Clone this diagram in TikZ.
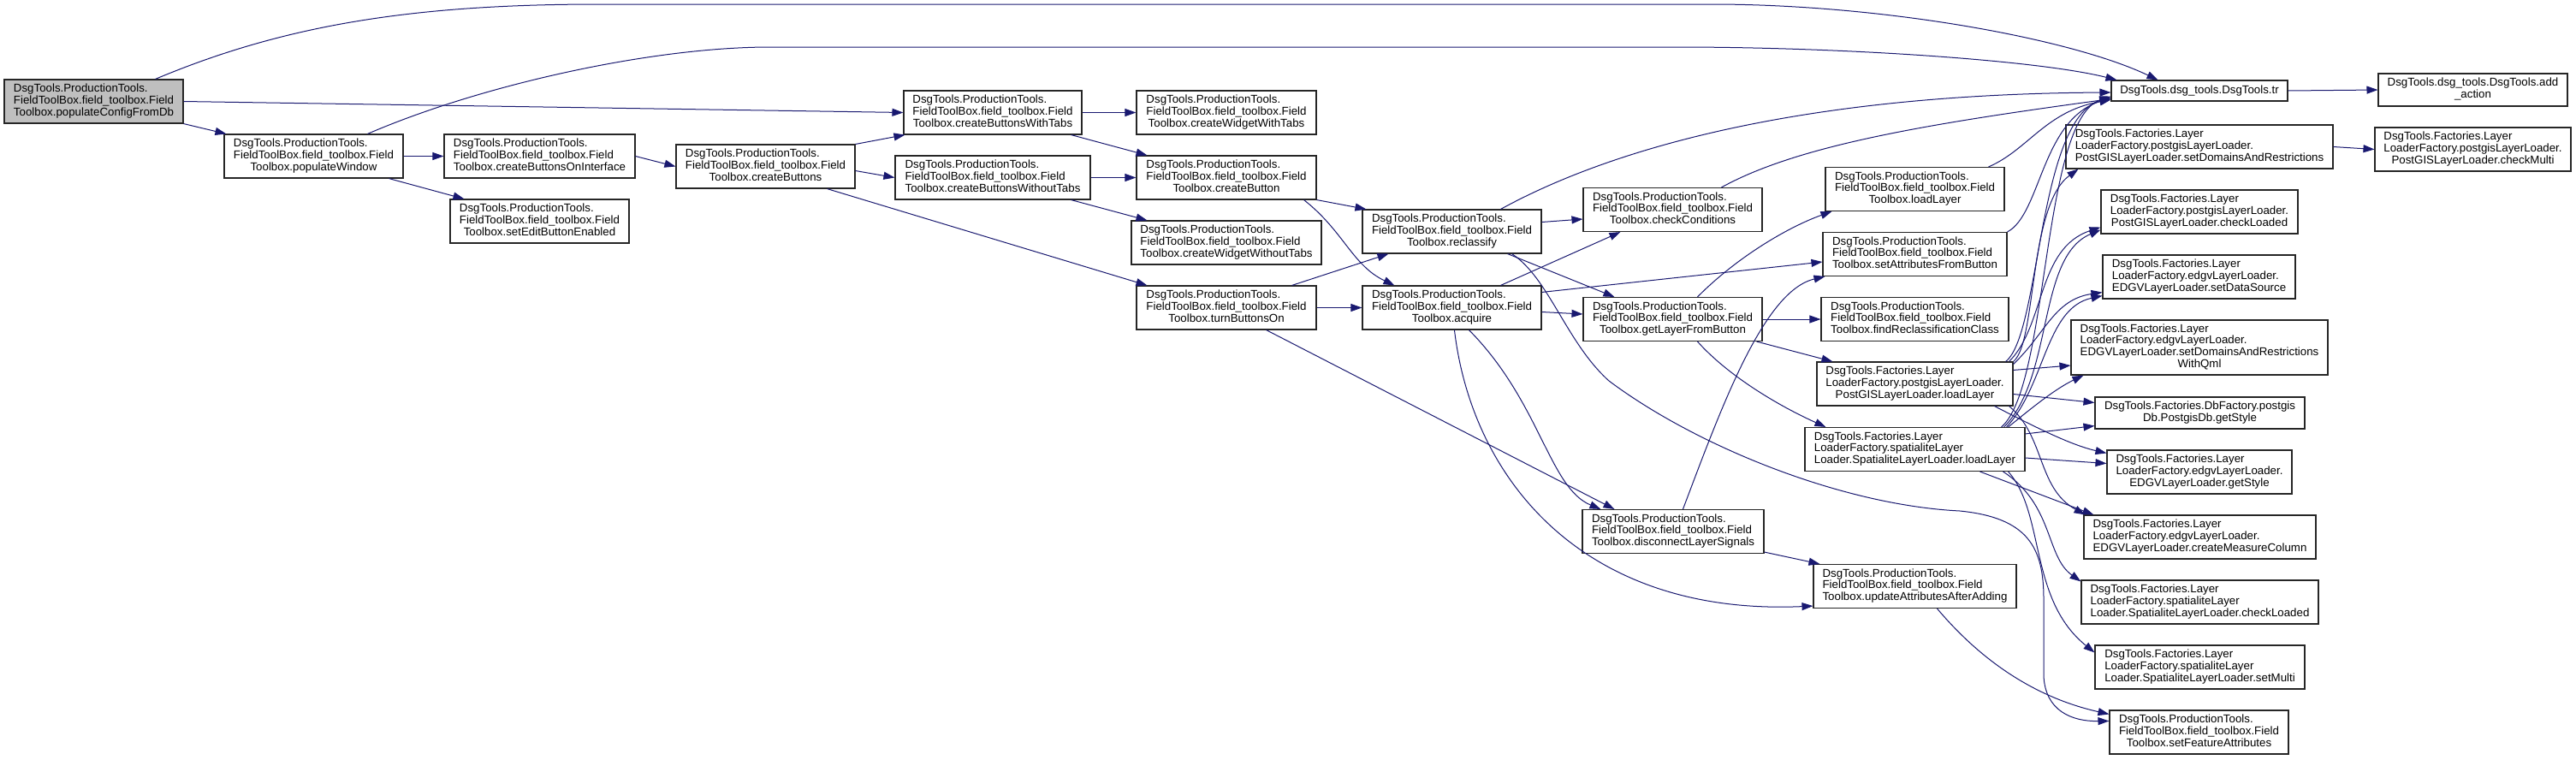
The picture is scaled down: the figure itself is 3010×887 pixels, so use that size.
\documentclass[tikz,border=0pt]{standalone}
\usepackage{fontspec}
\setmainfont{Liberation Sans}
\usetikzlibrary{arrows.meta,calc}
\definecolor{edgec}{HTML}{191970}
\definecolor{mainfill}{HTML}{BFBFBF}
\newcommand\lbl[2]{\begin{tabular}{@{}l@{}}#1\\\multicolumn{1}{@{}c@{}}{#2}\end{tabular}}
\newcommand\PTa{DsgTools.ProductionTools.\\FieldToolBox.field\_toolbox.Field}
\newcommand\PGa{DsgTools.Factories.Layer\\LoaderFactory.postgisLayerLoader.}
\newcommand\EDa{DsgTools.Factories.Layer\\LoaderFactory.edgvLayerLoader.}
\newcommand\SPa{DsgTools.Factories.Layer\\LoaderFactory.spatialiteLayer}
\begin{document}
\begin{tikzpicture}[x=1pt,y=-1pt,
  font=\fontsize{13.3}{13.7}\selectfont,
  box/.style={draw=black!85, line width=1.1pt, fill=white, inner sep=0pt, minimum height=51pt},
  edge/.style={draw=edgec, line width=1pt, -{Triangle[length=13pt,width=9pt]}},
]
\useasboundingbox (0,0) rectangle (3010,887);

% nodes
\node[box, fill=mainfill, minimum width=209pt] (pcfg) at (109.5,118.5) {\lbl{\PTa}{Toolbox.populateConfigFromDb}};
\node[box, minimum width=209pt] (pwin) at (366.5,182.5) {\lbl{\PTa}{Toolbox.populateWindow}};
\node[box, minimum width=223pt] (cboi) at (630.5,182.5) {\lbl{\PTa}{Toolbox.createButtonsOnInterface}};
\node[box, minimum width=209pt] (sebe) at (630.5,258.5) {\lbl{\PTa}{Toolbox.setEditButtonEnabled}};
\node[box, minimum width=209pt] (cbtn) at (894.5,194.5) {\lbl{\PTa}{Toolbox.createButtons}};
\node[box, minimum width=208pt] (cbwt) at (1160,131.5) {\lbl{\PTa}{Toolbox.createButtonsWithTabs}};
\node[box, minimum width=228pt] (cbwo) at (1160,207.5) {\lbl{\PTa}{Toolbox.createButtonsWithoutTabs}};
\node[box, minimum width=210pt] (cwwt) at (1433,131.5) {\lbl{\PTa}{Toolbox.createWidgetWithTabs}};
\node[box, minimum width=210pt] (cbut) at (1433,207.5) {\lbl{\PTa}{Toolbox.createButton}};
\node[box, minimum width=222pt] (cwwo) at (1433,283.5) {\lbl{\PTa}{Toolbox.createWidgetWithoutTabs}};
\node[box, minimum width=210pt] (tbon) at (1433,359.5) {\lbl{\PTa}{Toolbox.turnButtonsOn}};
\node[box, minimum width=209pt] (recl) at (1696.5,270.5) {\lbl{\PTa}{Toolbox.reclassify}};
\node[box, minimum width=209pt] (acq) at (1696.5,359.5) {\lbl{\PTa}{Toolbox.acquire}};
\node[box, minimum width=209pt] (chkc) at (1954.5,245) {\lbl{\PTa}{Toolbox.checkConditions}};
\node[box, minimum width=209pt] (glfb) at (1954.5,373) {\lbl{\PTa}{Toolbox.getLayerFromButton}};
\node[box, minimum width=212pt] (dls) at (1955,621) {\lbl{\PTa}{Toolbox.disconnectLayerSignals}};
\node[box, minimum width=209pt] (ll) at (2237.5,221) {\lbl{\PTa}{Toolbox.loadLayer}};
\node[box, minimum width=215pt] (safb) at (2237.5,297) {\lbl{\PTa}{Toolbox.setAttributesFromButton}};
\node[box, minimum width=219pt] (frc) at (2237.5,373) {\lbl{\PTa}{Toolbox.findReclassificationClass}};
\node[box, minimum width=229pt] (pgll) at (2237.5,448.5) {\lbl{\PGa}{PostGISLayerLoader.loadLayer}};
\node[box, minimum width=257pt] (spll) at (2237.5,525) {\lbl{\SPa}{Loader.SpatialiteLayerLoader.loadLayer}};
\node[box, minimum width=237pt] (uaaa) at (2237.5,685) {\lbl{\PTa}{Toolbox.updateAttributesAfterAdding}};
\node[box, minimum width=206pt, minimum height=24pt] (tr) at (2570,106) {DsgTools.dsg\_tools.DsgTools.tr};
\node[box, minimum width=221pt, minimum height=38pt] (addact) at (2889.5,105) {\lbl{DsgTools.dsg\_tools.DsgTools.add}{\_action}};
\node[box, minimum width=312pt] (pgsdr) at (2570,171.5) {\lbl{\PGa}{PostGISLayerLoader.setDomainsAndRestrictions}};
\node[box, minimum width=229pt] (cmul) at (2889.5,174.5) {\lbl{\PGa}{PostGISLayerLoader.checkMulti}};
\node[box, minimum width=230pt] (pgchk) at (2570,247.5) {\lbl{\PGa}{PostGISLayerLoader.checkLoaded}};
\node[box, minimum width=225pt] (sds) at (2569.5,323.5) {\lbl{\EDa}{EDGVLayerLoader.setDataSource}};
\node[box, minimum width=300pt, minimum height=64pt] (sdrq) at (2570,406) {\lbl{\EDa\\EDGVLayerLoader.setDomainsAndRestrictions}{WithQml}};
\node[box, minimum width=245pt, minimum height=37pt] (pgdbgs) at (2570.5,482.5) {\lbl{DsgTools.Factories.DbFactory.postgis}{Db.PostgisDb.getStyle}};
\node[box, minimum width=216pt] (egs) at (2570,551.5) {\lbl{\EDa}{EDGVLayerLoader.getStyle}};
\node[box, minimum width=271pt] (cmc) at (2570.5,627.5) {\lbl{\EDa}{EDGVLayerLoader.createMeasureColumn}};
\node[box, minimum width=277pt] (spchk) at (2570.5,703.5) {\lbl{\SPa}{Loader.SpatialiteLayerLoader.checkLoaded}};
\node[box, minimum width=245pt] (smul) at (2570.5,779.5) {\lbl{\SPa}{Loader.SpatialiteLayerLoader.setMulti}};
\node[box, minimum width=209pt] (sfa) at (2569.5,855.5) {\lbl{\PTa}{Toolbox.setFeatureAttributes}};

% edges
\draw[edge] ($(pcfg.north west)+(177,0)$) .. controls (330,30) and (480,5) .. (700,5) -- (2000,5) .. controls (2200,5) and (2420,45) .. ($(tr.north west)+(55,0)$);
\draw[edge] (pcfg.east) -- (cbwt.west);
\draw[edge] (pcfg.south east) -- ($(pwin.north west)+(3,0)$);
\draw[edge] ($(pwin.north west)+(168,0)$) .. controls (560,100) and (760,55) .. (900,55) -- (1960,55) .. controls (2150,55) and (2380,70) .. ($(tr.north west)+(7,0)$);
\draw[edge] (pwin.east) -- (cboi.west);
\draw[edge] ($(pwin.south west)+(193,0)$) -- ($(sebe.north west)+(17,0)$);
\draw[edge] (cboi.east) -- (cbtn.west);
\draw[edge] (cbtn.north east) -- ($(cbwt.south west)+(2,0)$);
\draw[edge] ($(cbtn.east)+(0,5)$) -- (cbwo.west);
\draw[edge] ($(cbtn.south west)+(177,0)$) -- ($(tbon.north west)+(13,0)$);
\draw[edge] (cbwt.east) -- (cwwt.west);
\draw[edge] ($(cbwt.south east)+(-13,0)$) -- ($(cbut.north west)+(13,0)$);
\draw[edge] (cbwo.east) -- (cbut.west);
\draw[edge] ($(cbwo.south east)+(-23,0)$) -- ($(cwwo.north west)+(19,0)$);
\draw[edge] (cbut.south east) -- ($(recl.north west)+(5,0)$);
\draw[edge] ($(cbut.south east)+(-15,0)$) .. controls (1570,270) and (1580,310) .. ($(acq.north west)+(38,0)$);
\draw[edge] ($(tbon.north east)+(-29,0)$) -- ($(recl.south west)+(31,0)$);
\draw[edge] (tbon.east) -- (acq.west);
\draw[edge] ($(tbon.south east)+(-59,0)$) -- ($(dls.north west)+(38,0)$);
\draw[edge] ($(recl.east)+(0,-11)$) -- ($(chkc.west)+(0,11)$);
\draw[edge] ($(recl.south east)+(-40,0)$) -- ($(glfb.north west)+(37,0)$);
\draw[edge] ($(recl.north west)+(162,0)$) .. controls (1880,175) and (2100,110) .. ($(tr.west)+(0,2)$);
\draw[edge] ($(recl.south east)+(-35,0)$) .. controls (1810,325) and (1830,400) .. (1880,445) .. controls (1980,520) and (2150,590) .. (2290,597) .. controls (2370,605) and (2388,640) .. (2388,700) -- (2388,790) .. controls (2390,830) and (2420,843) .. ($(sfa.north west)+(0,13)$);
\draw[edge] ($(acq.north west)+(162,0)$) -- ($(chkc.south west)+(44,0)$);
\draw[edge] ($(acq.north east)+(0,8)$) -- ($(safb.west)+(0,9)$);
\draw[edge] ($(acq.east)+(0,5)$) -- ($(glfb.west)+(0,-6)$);
\draw[edge] ($(acq.south west)+(125,0)$) .. controls (1800,470) and (1810,570) .. ($(dls.north west)+(22,0)$);
\draw[edge] ($(acq.south west)+(108,0)$) .. controls (1720,560) and (1850,720) .. ($(uaaa.south west)+(0,-3)$);
\draw[edge] ($(glfb.north west)+(134,0)$) .. controls (2030,300) and (2090,265) .. ($(ll.south west)+(8,0)$);
\draw[edge] (glfb.east) -- (frc.west);
\draw[edge] ($(glfb.south east)+(-7,0)$) -- ($(pgll.north west)+(19,0)$);
\draw[edge] ($(glfb.south west)+(134,0)$) .. controls (2020,440) and (2080,475) .. ($(spll.north west)+(25,0)$);
\draw[edge] ($(dls.north west)+(118,0)$) .. controls (2010,480) and (2060,340) .. ($(safb.south west)+(3,0)$);
\draw[edge] ($(dls.south east)+(0,-2)$) -- ($(uaaa.north west)+(8,0)$);
\draw[edge] ($(chkc.north west)+(162,0)$) .. controls (2100,170) and (2250,145) .. ($(tr.south west)+(0,-3)$);
\draw[edge] ($(ll.north east)+(-19,0)$) .. controls (2370,175) and (2390,130) .. ($(tr.south west)+(0,-2)$);
\draw[edge] (safb.north east) .. controls (2385,250) and (2385,140) .. ($(tr.south west)+(0,-4)$);
\draw[edge] ($(pgll.north east)+(-9,0)$) .. controls (2385,390) and (2380,140) .. ($(tr.south west)+(0,-5)$);
\draw[edge] ($(spll.north east)+(-28,0)$) .. controls (2395,450) and (2385,140) .. ($(tr.south west)+(0,-6)$);
\draw[edge] (tr.east) -- (addact.west);
\draw[edge] (pgsdr.east) -- (cmul.west);
\draw[edge] (pgll.north east) .. controls (2380,400) and (2370,240) .. ($(pgsdr.south west)+(15,0)$);
\draw[edge] ($(pgll.north east)+(-5,0)$) .. controls (2390,380) and (2380,290) .. ($(pgchk.south west)+(0,-8)$);
\draw[edge] ($(spll.north east)+(-25,0)$) .. controls (2400,440) and (2380,300) .. ($(pgchk.south west)+(0,-5)$);
\draw[edge] ($(pgll.north east)+(0,3)$) .. controls (2390,390) and (2400,350) .. ($(sds.south west)+(0,-8)$);
\draw[edge] ($(spll.north east)+(-22,0)$) .. controls (2390,450) and (2390,360) .. ($(sds.south west)+(0,-4)$);
\draw[edge] ($(pgll.north east)+(0,10)$) -- ($(sdrq.west)+(0,21)$);
\draw[edge] ($(spll.north east)+(-20,0)$) .. controls (2370,480) and (2400,455) .. ($(sdrq.south west)+(15,0)$);
\draw[edge] ($(pgll.east)+(0,12)$) -- ($(pgdbgs.west)+(0,-12)$);
\draw[edge] ($(spll.north east)+(0,8)$) -- ($(pgdbgs.south west)+(0,-4)$);
\draw[edge] ($(pgll.south east)+(-22,0)$) .. controls (2380,500) and (2420,520) .. ($(egs.north west)+(0,4)$);
\draw[edge] ($(spll.east)+(0,10)$) -- ($(egs.west)+(0,-10)$);
\draw[edge] ($(pgll.south east)+(-5,0)$) .. controls (2390,510) and (2380,570) .. ($(cmc.north west)+(2,0)$);
\draw[edge] ($(spll.south east)+(-53,0)$) -- ($(cmc.north west)+(12,0)$);
\draw[edge] ($(spll.south east)+(-26,0)$) .. controls (2400,590) and (2390,650) .. ($(spchk.north west)+(0,2)$);
\draw[edge] ($(spll.south east)+(-20,0)$) .. controls (2390,600) and (2370,700) .. ($(smul.north west)+(0,9)$);
\draw[edge] ($(uaaa.south west)+(145,0)$) .. controls (2330,790) and (2400,820) .. ($(sfa.north west)+(0,5)$);
\end{tikzpicture}
\end{document}
